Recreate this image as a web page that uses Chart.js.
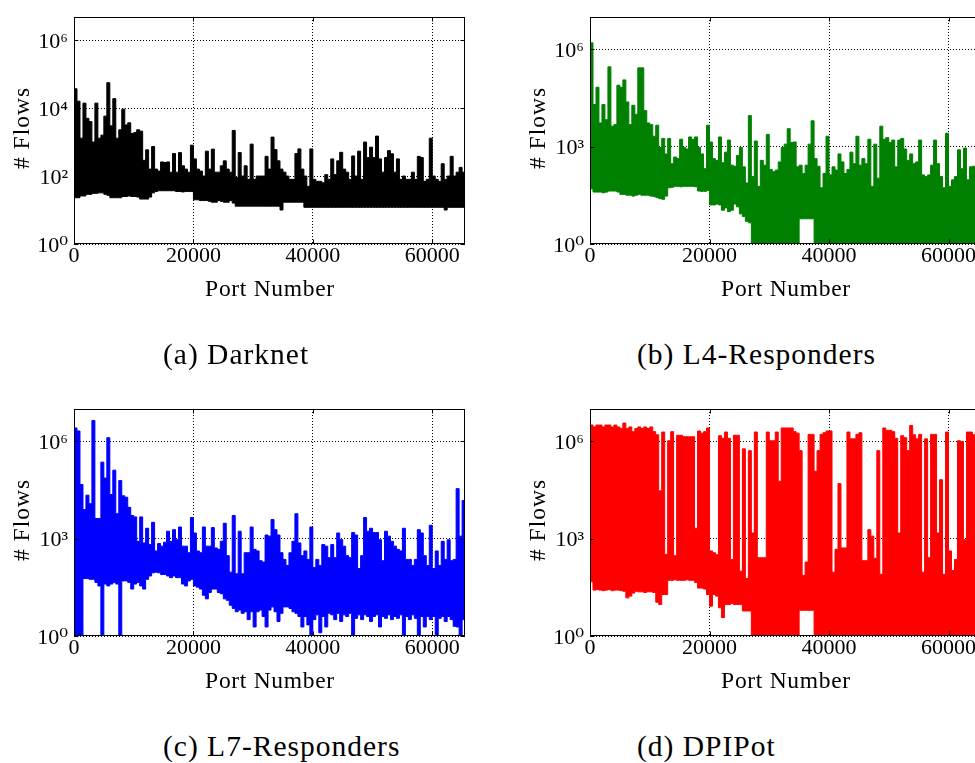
<!DOCTYPE html>
<html>
<head>
<meta charset="utf-8">
<title>Flows per port</title>
<script src="https://cdn.jsdelivr.net/npm/chart.js@4.4.1/dist/chart.umd.min.js"></script>
<style>
  html, body { margin: 0; padding: 0; background: #fff; overflow: hidden; }
  #page { position: relative; width: 975px; height: 763px; overflow: hidden;
          font-family: 'Liberation Serif', 'DejaVu Serif', serif; color: #000; }
  canvas { position: absolute; }
  .ylab { position: absolute; font-size: 23.5px; letter-spacing: 1px; white-space: nowrap; line-height: 1;
          transform: translate(-50%, -50%) rotate(-90deg); }
  .xlab { position: absolute; font-size: 23.5px; letter-spacing: 0.7px; white-space: nowrap; line-height: 1;
          transform: translateX(-50%); }
  .cap { position: absolute; font-size: 29.5px; letter-spacing: 1px; white-space: nowrap; line-height: 1; }
</style>
</head>
<body>
<div id="page">
  <canvas id="darknet" width="480" height="280" style="left:0px;top:0px"></canvas>
  <canvas id="l4" width="480" height="280" style="left:516px;top:0px"></canvas>
  <canvas id="l7" width="480" height="280" style="left:0px;top:392px"></canvas>
  <canvas id="dpipot" width="480" height="280" style="left:516px;top:392px"></canvas>

  <div class="ylab" style="left:22px;top:128px"># Flows</div>
  <div class="ylab" style="left:538px;top:128px"># Flows</div>
  <div class="ylab" style="left:22px;top:520px"># Flows</div>
  <div class="ylab" style="left:538px;top:520px"># Flows</div>

  <div class="xlab" style="left:270px;top:277px">Port Number</div>
  <div class="xlab" style="left:786px;top:277px">Port Number</div>
  <div class="xlab" style="left:270px;top:669px">Port Number</div>
  <div class="xlab" style="left:786px;top:669px">Port Number</div>

  <div class="cap" style="left:163px;top:340px">(a) Darknet</div>
  <div class="cap" style="left:637px;top:340px">(b) L4-Responders</div>
  <div class="cap" style="left:163px;top:732px">(c) L7-Responders</div>
  <div class="cap" style="left:637px;top:732px">(d) DPIPot</div>
</div>

<script>
document.addEventListener("DOMContentLoaded", function () {

  const FONT = "'Liberation Serif', 'DejaVu Serif', serif";

  // every value covers 500 ports, starting at index * 500
  const binWidth = 500;
  const portMax = 65535;

  const xTicks = [0, 20000, 40000, 60000];
  const yTicksDarknet = [1, 1e2, 1e4, 1e6];
  const yTicksOther = [1, 1e3, 1e6];

  // (a) Darknet: top of the band (spikes) and bottom of the band
  const darknetHigh = [
    37000, 16000, 1300, 14000, 5000, 4000, 1000, 14000, 1300, 1600,
    5800, 56000, 3000, 19000, 1300, 2300, 9300, 3200, 3700, 1800,
    1900, 2300, 2100, 290, 590, 160, 740, 160, 140, 260,
    250, 260, 130, 460, 130, 490, 200, 160, 130, 810,
    320, 160, 140, 100, 540, 160, 620, 130, 130, 200,
    280, 160, 130, 2200, 90, 490, 100, 200, 80, 870,
    80, 100, 100, 100, 380, 160, 1400, 600, 280, 160,
    130, 100, 80, 80, 460, 630, 160, 100, 50, 630,
    80, 70, 70, 63, 110, 80, 320, 110, 280, 500,
    160, 130, 80, 390, 100, 540, 80, 1000, 350, 710,
    350, 1500, 320, 130, 350, 560, 450, 130, 320, 80,
    100, 80, 80, 130, 80, 380, 350, 70, 80, 1300,
    100, 80, 70, 230, 80, 100, 380, 100, 130, 180,
    130, 130
  ];
  const darknetLow = [
    23, 23, 26, 26, 29, 29, 31, 31, 32, 32,
    29, 27, 23, 23, 23, 23, 25, 25, 26, 25,
    25, 24, 21, 21, 21, 24, 32, 35, 37, 37,
    37, 37, 37, 37, 35, 35, 34, 35, 35, 35,
    20, 20, 19, 19, 19, 18, 17, 17, 19, 18,
    17, 17, 19, 16, 13, 13, 13, 13, 13, 13,
    13, 13, 13, 13, 13, 13, 13, 13, 13, 10,
    17, 17, 17, 17, 17, 17, 17, 12, 12, 12,
    12, 12, 12, 12, 12, 12, 12, 12, 12, 12,
    12, 12, 12, 12, 12, 12, 12, 12, 12, 12,
    12, 12, 12, 12, 12, 12, 12, 12, 12, 12,
    12, 12, 12, 12, 12, 12, 12, 12, 12, 12,
    12, 12, 12, 12, 10, 12, 12, 12, 12, 12,
    12, 12
  ];

  // (b) L4-Responders
  const l4High = [
    1.6e6, 2.0e4, 6.8e4, 5400, 2.0e4, 6800, 2.9e5, 4300, 4800, 7.9e4,
    6.8e4, 1.15e5, 2.4e4, 4800, 1.9e4, 1.0e4, 2.7e5, 2.7e5, 1.3e4, 5400,
    4800, 2100, 4600, 950, 1800, 600, 1800, 300, 480, 430,
    1700, 950, 850, 2000, 1700, 2000, 950, 600, 210, 4600,
    1400, 430, 380, 2000, 320, 680, 1600, 270, 250, 540,
    950, 240, 76, 9100, 120, 1500, 60, 380, 270, 2400,
    200, 170, 190, 340, 950, 1200, 3600, 1350, 1400, 240,
    270, 150, 270, 1200, 6300, 430, 250, 54, 150, 2100,
    135, 240, 190, 600, 340, 150, 200, 680, 300, 2100,
    270, 430, 300, 1700, 60, 1200, 107, 4300, 1700, 1900,
    1350, 1600, 240, 1600, 1800, 850, 380, 600, 300, 340,
    1600, 135, 120, 135, 270, 1600, 300, 120, 54, 2600,
    60, 95, 120, 800, 210, 910, 95, 240, 250, 130,
    320, 160
  ];
  const l4Low = [
    50, 40, 40, 40, 38, 40, 43, 43, 43, 40,
    34, 34, 32, 32, 30, 32, 34, 32, 32, 32,
    30, 29, 27, 25, 24, 30, 54, 56, 60, 60,
    58, 60, 60, 60, 60, 58, 43, 42, 42, 45,
    16, 16, 17, 16, 11, 13, 10, 11, 17, 14,
    8.5, 7, 5, 4.5, 1, 1, 1, 1, 1, 1,
    1, 1, 1, 1, 1, 1, 1, 1, 1, 1,
    6, 6, 6, 6, 6, 1, 1, 1, 1, 1,
    1, 1, 1, 1, 1, 1, 1, 1, 1, 1,
    1, 1, 1, 1, 1, 1, 1, 1, 1, 1,
    1, 1, 1, 1, 1, 1, 1, 1, 1, 1,
    1, 1, 1, 1, 1, 1, 1, 1, 1, 1,
    1, 1, 1, 1, 1, 1, 1, 1, 1, 1,
    1, 1
  ];

  // (c) L7-Responders
  const l7High = [
    2.6e6, 2.1e6, 4.7e4, 7900, 2.2e4, 1.2e4, 4.4e6, 4200, 4200, 2.3e5,
    7.4e4, 1.3e6, 2.3e4, 1.3e5, 5900, 6.2e4, 2.1e4, 1.9e4, 9300, 5200,
    4700, 830, 4700, 740, 2100, 660, 3200, 420, 710, 590,
    780, 1700, 830, 1900, 930, 2300, 590, 590, 370, 4500,
    1500, 420, 370, 2300, 590, 590, 2200, 520, 470, 830,
    3000, 300, 93, 5200, 83, 1700, 83, 370, 370, 2300,
    470, 420, 210, 190, 1300, 1200, 3900, 1900, 1300, 370,
    230, 150, 370, 830, 5900, 740, 300, 420, 230, 2300,
    130, 230, 150, 660, 590, 260, 660, 260, 1500, 930,
    590, 300, 260, 1550, 1300, 120, 300, 4500, 1700, 2100,
    1550, 1550, 930, 210, 1700, 1200, 830, 590, 470, 420,
    2100, 230, 230, 150, 230, 1900, 1500, 300, 150, 2600,
    120, 420, 150, 830, 230, 930, 210, 230, 3.5e4, 1200,
    1.5e4, 1.5e4
  ];
  const l7Low = [
    1, 1, 1, 59, 59, 56, 56, 45, 35, 1,
    40, 35, 40, 45, 40, 1, 50, 50, 45, 28,
    40, 45, 35, 28, 56, 71, 89, 93, 89, 79,
    79, 71, 63, 71, 63, 63, 40, 35, 50, 56,
    35, 32, 28, 18, 14, 22, 28, 28, 22, 20,
    14, 12.6, 8.9, 7.1, 5.6, 6.3, 5, 5.6, 3.2, 5.6,
    1.9, 5.6, 6.3, 4, 1.9, 6.3, 7.9, 5.6, 2.8, 5,
    7.9, 7.9, 7.1, 5.6, 5, 4, 1.9, 4, 2.2, 1,
    3.2, 4.5, 1.26, 4, 1.9, 5, 4.5, 3.2, 5, 2.8,
    4.5, 4, 5, 1, 3.5, 4.5, 3.2, 4.5, 4, 2.8,
    4, 4.5, 1.9, 4, 3.5, 4.5, 3.2, 4, 3.5, 4.5,
    1, 4, 3.2, 4.5, 3.5, 1, 4, 1.9, 4, 3.2,
    4, 1, 3.5, 4, 2.8, 4, 3.2, 2, 1.9, 1,
    3.2, 3.2
  ];

  // (d) DPIPot
  const dpiHigh = [
    3.2e6, 2.8e6, 3.2e6, 3.2e6, 2.8e6, 3.2e6, 3.2e6, 2.8e6, 3.2e6, 2.8e6,
    2.5e6, 3.7e6, 2.5e6, 2.8e6, 2.0e6, 2.5e6, 2.8e6, 2.5e6, 2.8e6, 2.5e6,
    2.8e6, 2.0e6, 1.6e6, 3.0e4, 1.95e6, 330, 1.05e6, 2.0e6, 300, 1.55e6,
    1.55e6, 1.4e6, 1.4e6, 1.4e6, 1.4e6, 2100, 2.1e6, 1.8e6, 2.0e6, 2.6e6,
    420, 370, 320, 1.5e6, 1.25e6, 1.95e6, 1.25e6, 230, 1.55e6, 1.55e6,
    100, 5.9e5, 59, 5.2e5, 1500, 1.95e6, 260, 260, 260, 1.95e6,
    1.05e6, 1.05e6, 1.95e6, 5.9e4, 2.6e6, 2.6e6, 2.6e6, 2.6e6, 2.0e6, 1.8e6,
    5.2e5, 74, 190, 1.65e6, 1.65e6, 1.2e5, 5.2e5, 1.65e6, 1.85e6, 2.1e6,
    2.1e6, 93, 470, 5.0e4, 520, 520, 1.95e6, 1.2e6, 1.2e6, 1.65e6,
    1.85e6, 210, 210, 1900, 1200, 250, 5.2e5, 80, 2.6e6, 2.2e6,
    2.2e6, 2.0e6, 1.25e6, 1500, 1.5e6, 1.3e6, 5.2e5, 3.1e6, 1.6e6, 1.2e6,
    1.65e6, 93, 1.2e6, 260, 1.65e6, 1.65e6, 1500, 6.6e4, 80, 1.95e6,
    420, 105, 230, 1.05e6, 1.0e6, 930, 1.95e6, 1.95e6, 1.6e6, 2.0e6,
    320, 1.6e6
  ];
  const dpiLow = [
    47, 26, 27, 26, 25, 26, 27, 25, 26, 26,
    25, 24, 15, 17, 21, 24, 23, 23, 22, 23,
    23, 22, 11, 9.3, 19, 19, 52, 52, 54, 52,
    52, 52, 54, 52, 52, 45, 30, 30, 28, 19,
    8.3, 19, 17, 7.4, 3.7, 9.3, 9.3, 10, 9.3, 9.3,
    9.3, 5.9, 5.9, 5.9, 1, 1, 1, 1, 1, 1,
    1, 1, 1, 1, 1, 1, 1, 1, 1, 1,
    6.2, 6.2, 6.2, 6.2, 6.2, 1, 1, 1, 1, 1,
    1, 1, 1, 1, 1, 1, 1, 1, 1, 1,
    1, 1, 1, 1, 1, 1, 1, 1, 1, 1,
    1, 1, 1, 1, 1, 1, 1, 1, 1, 1,
    1, 1, 1, 1, 1, 1, 1, 1, 1, 1,
    1, 1, 1, 1, 1, 1, 1, 1, 1, 1,
    1, 1
  ];

  const SUP = ['\u2070', '\u00b9', '\u00b2', '\u00b3', '\u2074', '\u2075', '\u2076', '\u2077'];

  function toPoints(values) {
    const pts = values.map((v, i) => ({ x: i * binWidth, y: v }));
    pts.push({ x: portMax, y: values[values.length - 1] });
    return pts;
  }

  // frame round the plot and small inward tick marks
  const framePlugin = {
    id: 'frame',
    afterDraw(chart) {
      const { ctx, chartArea: a, scales } = chart;
      const l = Math.round(a.left) + 0.5, r = Math.round(a.right) - 0.5;
      const t = Math.round(a.top) + 0.5, b = Math.round(a.bottom) - 0.5;
      ctx.save();
      ctx.strokeStyle = '#000';
      ctx.lineWidth = 1;
      ctx.beginPath();
      scales.x.ticks.forEach(tk => {
        const px = Math.round(scales.x.getPixelForValue(tk.value)) + 0.5;
        ctx.moveTo(px, b); ctx.lineTo(px, b - 4);
        ctx.moveTo(px, t); ctx.lineTo(px, t + 4);
      });
      scales.y.ticks.forEach(tk => {
        const py = Math.round(scales.y.getPixelForValue(tk.value)) + 0.5;
        ctx.moveTo(l, py); ctx.lineTo(l + 4, py);
        ctx.moveTo(r, py); ctx.lineTo(r - 4, py);
      });
      ctx.stroke();
      ctx.strokeRect(l, t, r - l, b - t);
      ctx.restore();
    }
  };

  function flowChart(id, low, high, color, yMax, yTicks, padTop, padRight) {
    return new Chart(document.getElementById(id), {
      type: 'line',
      data: {
        datasets: [
          {
            data: toPoints(low),
            borderColor: color,
            borderWidth: 1,
            pointRadius: 0,
            stepped: true,
            fill: false
          },
          {
            data: toPoints(high),
            borderColor: color,
            backgroundColor: color,
            borderWidth: 1,
            pointRadius: 0,
            stepped: true,
            fill: '-1'
          }
        ]
      },
      options: {
        responsive: false,
        animation: false,
        events: [],
        devicePixelRatio: 1,
        layout: {
          autoPadding: false,
          padding: { left: 0, right: padRight, top: padTop, bottom: 0 }
        },
        plugins: {
          legend: { display: false },
          tooltip: { enabled: false }
        },
        scales: {
          x: {
            type: 'linear',
            min: 0,
            max: portMax,
            afterBuildTicks: s => { s.ticks = xTicks.map(v => ({ value: v })); },
            afterFit: s => { s.height = 36; },
            grid: { color: '#000', lineWidth: 1, drawTicks: false },
            border: { display: false, dash: [1, 2] },
            ticks: {
              color: '#000',
              padding: 1,
              maxRotation: 0,
              autoSkip: false,
              font: { family: FONT, size: 22, lineHeight: 1 },
              callback: v => String(v)
            }
          },
          y: {
            type: 'logarithmic',
            min: 1,
            max: yMax,
            afterBuildTicks: s => { s.ticks = yTicks.map(v => ({ value: v })); },
            afterFit: s => { s.width = 74; },
            grid: { color: '#000', lineWidth: 1, drawTicks: false },
            border: { display: false, dash: [1, 2] },
            ticks: {
              color: '#000',
              padding: 6,
              labelOffset: 2,
              autoSkip: false,
              font: { family: FONT, size: 22, lineHeight: 1 },
              callback: v => '10' + SUP[Math.round(Math.log10(v))]
            }
          }
        }
      },
      plugins: [framePlugin]
    });
  }

  flowChart('darknet', darknetLow, darknetHigh, '#000000', 4.8e6, yTicksDarknet, 11.7, 14.7);
  flowChart('l4', l4Low, l4High, '#008000', 1e7, yTicksOther, 11.7, 14.4);
  flowChart('l7', l7Low, l7High, '#0000ff', 1e7, yTicksOther, 11.3, 14.7);
  flowChart('dpipot', dpiLow, dpiHigh, '#ff0000', 1e7, yTicksOther, 11.3, 14.4);

});
</script>
</body>
</html>
